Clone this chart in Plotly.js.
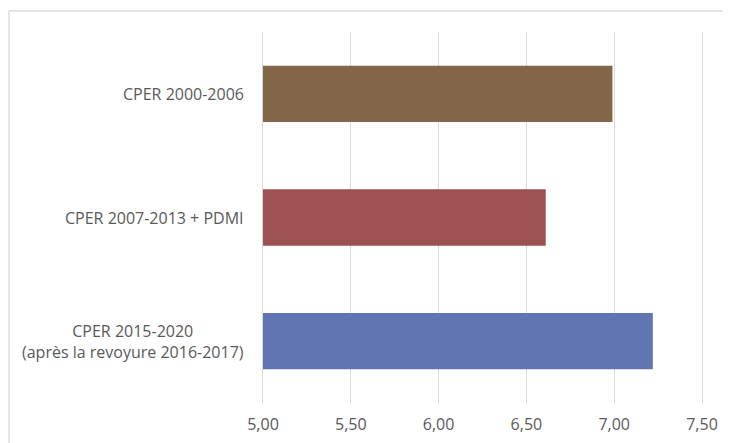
<!DOCTYPE html>
<html>
<head>
<meta charset="utf-8">
<script src="https://cdn.plot.ly/plotly-3.0.1.min.js"></script>
<style>
  html, body { margin: 0; padding: 0; background: #ffffff; }
  #chart { width: 733px; height: 443px; }
</style>
</head>
<body>
<div id="chart"></div>
<script>
// Programmes, top to bottom
const categories = [
  "CPER 2000-2006",
  "CPER 2007-2013 + PDMI",
  "CPER 2015-2020<br>(après la revoyure 2016-2017)"
];
const values = [6.99, 6.61, 7.22];
const barColors = ["#836648", "#9C5252", "#6075B2"];
const tickValues = [5.0, 5.5, 6.0, 6.5, 7.0, 7.5];

const textColor = "#595959";
const gridColor = "#D9D9D9";
const font = { family: "Open Sans, sans-serif", size: 16, color: textColor };

const trace = {
  type: "bar",
  orientation: "h",
  y: categories,
  x: values,
  marker: { color: barColors, line: { width: 0 } },
  hoverinfo: "x+y"
};

// Category labels, right-aligned to the plot with centred line breaks
const labelAnnotations = categories.map(c => ({
  xref: "paper", yref: "y",
  x: 0, y: c,
  xanchor: "right", yanchor: "middle",
  xshift: -17,
  align: "center",
  text: c,
  showarrow: false,
  font: font
}));

// Light frame along the top and left edges
const frame = [
  { type: "line", xref: "paper", yref: "paper", x0: -0.5786, x1: 1.0478, y0: 1.0566, y1: 1.0566,
    line: { color: gridColor, width: 1.3 } },
  { type: "line", xref: "paper", yref: "paper", x0: -0.5786, x1: -0.5786, y0: 1.0566, y1: -0.2,
    line: { color: gridColor, width: 1.3 } }
];

const layout = {
  width: 733, height: 443,
  margin: { l: 263, r: 31, t: 32, b: 40 },
  paper_bgcolor: "#ffffff",
  plot_bgcolor: "#ffffff",
  separators: ", ",
  showlegend: false,
  bargap: 0.545,
  font: font,
  xaxis: {
    range: [5, 7.5],
    tickvals: tickValues,
    ticktext: tickValues.map(v => v.toFixed(2).replace(".", ",")),
    showgrid: true,
    gridcolor: gridColor,
    gridwidth: 1.3,
    zeroline: false,
    showline: false,
    ticks: "",
    ticklabelstandoff: 10,
    tickfont: font,
    fixedrange: true
  },
  yaxis: {
    type: "category",
    categoryorder: "array",
    categoryarray: categories,
    autorange: "reversed",
    showticklabels: false,
    showgrid: false,
    zeroline: false,
    // vertical lines at both plot edges stand in for the 5,00 and 7,50 gridlines
    showline: true,
    mirror: true,
    linecolor: gridColor,
    linewidth: 1.3,
    layer: "below traces",
    ticks: "",
    fixedrange: true
  },
  annotations: labelAnnotations,
  shapes: frame
};

Plotly.newPlot("chart", [trace], layout, { displayModeBar: false, staticPlot: true });
</script>
</body>
</html>
